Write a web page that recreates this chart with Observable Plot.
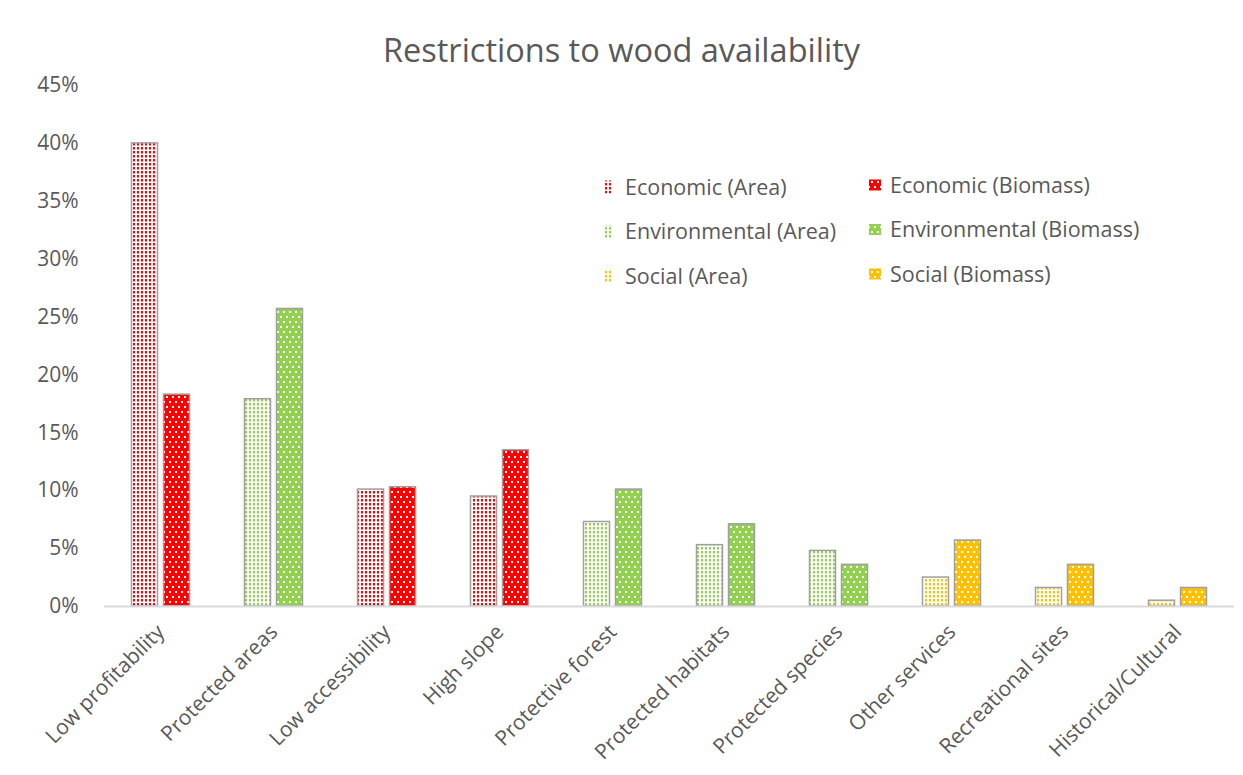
<!DOCTYPE html>
<html>
<head>
<meta charset="utf-8">
<script src="https://cdn.jsdelivr.net/npm/d3@7"></script>
<script src="https://cdn.jsdelivr.net/npm/@observablehq/plot@0.6"></script>
<style>
  html, body { margin: 0; padding: 0; background: #fff; }
  body { font-family: "Open Sans", sans-serif; width: 1243px; }
  #title { box-sizing: border-box; height: 70px; padding-top: 29px; line-height: 42px;
           text-align: center; font-size: 32.5px; color: #595959; }
  #chart svg { display: block; }
</style>
</head>
<body>
<div id="title">Restrictions to wood availability</div>
<div id="chart"></div>
<script>
// ---- data ----
const categories = ["Low profitability", "Protected areas", "Low accessibility", "High slope",
  "Protective forest", "Protected habitats", "Protected species", "Other services",
  "Recreational sites", "Historical/Cultural"];
const categoryGroups = ["Economic", "Environmental", "Economic", "Economic",
  "Environmental", "Environmental", "Environmental", "Social", "Social", "Social"];
const areaValues = [40.0, 17.9, 10.1, 9.5, 7.3, 5.3, 4.8, 2.5, 1.6, 0.5];      // %
const biomassValues = [18.3, 25.7, 10.3, 13.5, 10.1, 7.1, 3.6, 5.7, 3.6, 1.6]; // %
const groups = ["Economic", "Environmental", "Social"];
const groupColors = ["#FF0000", "#92D050", "#FFC000"];
const measures = ["Area", "Biomass"];
const yTicks = [0, 0.05, 0.10, 0.15, 0.20, 0.25, 0.30, 0.35, 0.40, 0.45];

// ---- table ----
const rows = [];
categories.forEach((c, i) => {
  rows.push({category: c, group: categoryGroups[i], measure: "Area", value: areaValues[i] / 100});
  rows.push({category: c, group: categoryGroups[i], measure: "Biomass", value: biomassValues[i] / 100});
});
const patId = (g, m) => `pat-${g}-${m}`;
const patUrl = d => `url(#${patId(d.group, d.measure)})`;

const textColor = "#595959";
const chart = Plot.plot({
  width: 1243,
  height: 705,
  marginLeft: 104,
  marginRight: 9,
  marginTop: 15,
  marginBottom: 169,
  style: {fontFamily: "'Open Sans', sans-serif", fontSize: "20px", color: textColor, background: "#fff", overflow: "visible"},
  x: {domain: categories, padding: 0, label: null, axis: null},
  y: {domain: [0, 0.45], label: null, axis: null},
  color: {type: "identity"},
  marks: [
    Plot.barY(rows.filter(d => d.measure === "Area"), {
      x: "category", y: "value", fill: patUrl, stroke: "#a0a0a0", strokeWidth: 1.5,
      insetLeft: 27.5, insetRight: 59.5
    }),
    Plot.barY(rows.filter(d => d.measure === "Biomass"), {
      x: "category", y: "value", fill: patUrl, stroke: "#a0a0a0", strokeWidth: 1.5,
      insetLeft: 59.5, insetRight: 27.5
    }),
    Plot.ruleY([0], {stroke: "#d9d9d9", strokeWidth: 2}),
    Plot.axisY({ticks: yTicks, tickFormat: d3.format(".0%"), tickSize: 0, tickPadding: 26,
      fontSize: 21, label: null}),
    Plot.axisX({tickSize: 0, tickRotate: -45, tickPadding: 22, fontSize: 21, label: null})
  ]
});

const svg = d3.select(chart);
const defs = svg.insert("defs", ":first-child");
groups.forEach((g, gi) => {
  const col = groupColors[gi];
  // Area: white background with dense coloured dots
  const pa = defs.append("pattern").attr("id", patId(g, "Area"))
    .attr("patternUnits", "userSpaceOnUse").attr("width", 4).attr("height", 4);
  pa.append("rect").attr("width", 4).attr("height", 4).attr("fill", "#fff");
  pa.append("rect").attr("x", 1).attr("y", 1).attr("width", 2).attr("height", 2.5).attr("fill", col);
  // Biomass: solid colour with sparse white dots
  const pb = defs.append("pattern").attr("id", patId(g, "Biomass"))
    .attr("patternUnits", "userSpaceOnUse").attr("width", 6).attr("height", 10);
  pb.append("rect").attr("width", 6).attr("height", 10).attr("fill", col);
  pb.append("rect").attr("x", 1).attr("y", 1).attr("width", 2).attr("height", 2).attr("fill", "#fff");
  pb.append("rect").attr("x", 4).attr("y", 6).attr("width", 2).attr("height", 2).attr("fill", "#fff");
});

// legend (inside plot area, two columns)
const legend = svg.append("g").attr("font-family", "'Open Sans', sans-serif")
  .attr("font-size", 21.5).attr("fill", textColor).attr("text-anchor", "start");
groups.forEach((g, gi) => {
  measures.forEach((m, mi) => {
    const x0 = mi === 0 ? 604 : 869;
    const yc = (mi === 0 ? 117 : 115) + gi * 44.5;
    const w = mi === 0 ? 9 : 12, h = mi === 0 ? 13 : 11;
    legend.append("rect").attr("x", x0).attr("y", yc - h / 2).attr("width", w).attr("height", h)
      .attr("fill", `url(#${patId(g, m)})`);
    legend.append("text").attr("x", mi === 0 ? 625 : 890).attr("y", yc).attr("dy", "0.36em")
      .text(`${g} (${m})`);
  });
});

document.getElementById("chart").appendChild(chart);
</script>
</body>
</html>
